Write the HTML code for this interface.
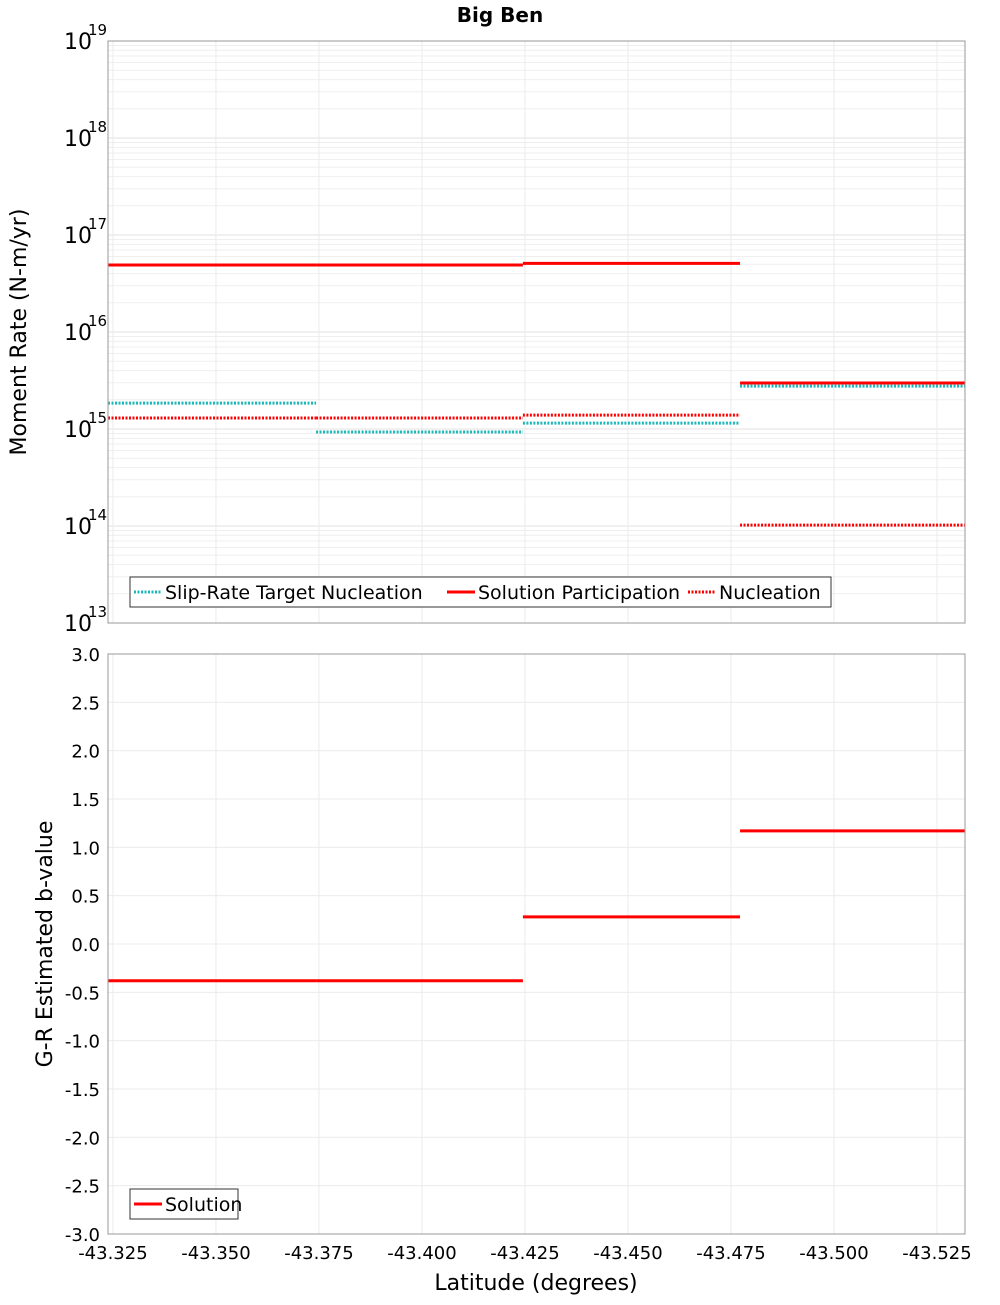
<!DOCTYPE html>
<html><head><meta charset="utf-8"><style>
body{margin:0;background:#fff;font-family:"Liberation Sans","DejaVu Sans",sans-serif;}
svg text{font-family:"DejaVu Sans","Liberation Sans",sans-serif;}
</style></head><body>
<svg id="chart" width="1000" height="1300" xmlns="http://www.w3.org/2000/svg">
<text x="500" y="22" text-anchor="middle" font-size="20" font-weight="bold">Big Ben</text>
<g id="topPanel"></g>
<g id="botPanel"></g>
</svg>
<script>
const segEdges=[-43.3238,-43.3743,-43.4245,-43.4772,-43.5318];
const slipTarget=[1.85e15,9.3e14,1.15e15,2.77e15];
const solutionPart=[4.9e16,4.9e16,5.1e16,2.98e15];
const nucleation=[1.3e15,1.3e15,1.39e15,1.02e14];
const bValues=[-0.38,-0.38,0.28,1.17];
const xTicks=[-43.325,-43.350,-43.375,-43.400,-43.425,-43.450,-43.475,-43.500,-43.525];
const yBTicks=[3.0,2.5,2.0,1.5,1.0,0.5,0.0,-0.5,-1.0,-1.5,-2.0,-2.5,-3.0];
const logExps=[13,14,15,16,17,18,19];

const NS="http://www.w3.org/2000/svg";
const L=108,R=965;
const X=v=>L+(v-segEdges[0])/(segEdges[4]-segEdges[0])*(R-L);
const T0=41,T1=623, Ylog=v=>T1-(Math.log10(v)-13)/6*(T1-T0);
const B0=654,B1=1234, Yb=v=>B1-(v+3)/6*(B1-B0);
function mk(p,t,a){const e=document.createElementNS(NS,t);for(const k in a)e.setAttribute(k,a[k]);p.appendChild(e);return e;}
const topG=document.getElementById('topPanel'),botG=document.getElementById('botPanel');

for(let e=13;e<19;e++)for(let m=1;m<10;m++){const y=Ylog(m*Math.pow(10,e));
 const g=mk(topG,'line',{x1:L,x2:R,y1:y,y2:y,stroke:m==1?'#e2e2e2':'#efefef','stroke-width':1});
 
 }
xTicks.forEach(v=>{[[topG,T0,T1],[botG,B0,B1]].forEach(([p,a,b])=>{const g=mk(p,'line',{x1:X(v),x2:X(v),y1:a,y2:b,stroke:'#ebebeb'});
 
 });});
yBTicks.forEach(v=>{const g=mk(botG,'line',{x1:L,x2:R,y1:Yb(v),y2:Yb(v),stroke:'#ebebeb'});
 
 
 const t=mk(botG,'text',{x:100,y:Yb(v)+7,'text-anchor':'end','font-size':18});t.textContent=v.toFixed(1);
 
 });
logExps.forEach(e=>{const y=Ylog(Math.pow(10,e));
 const t=mk(topG,'text',{x:64,y:y+8,'font-size':22});t.textContent='10';
 
 
 const s=mk(topG,'text',{x:88,y:y-6,'font-size':15});s.textContent=String(e);
 
 });
xTicks.forEach(v=>{const t=mk(botG,'text',{x:X(v),y:1259,'text-anchor':'middle','font-size':18});t.textContent=v.toFixed(3);
 
 });

function series(p,vals,Y,color,dash,name){vals.forEach((v,i)=>{const l=mk(p,'line',{x1:X(segEdges[i]),x2:X(segEdges[i+1]),y1:Y(v),y2:Y(v),stroke:color,'stroke-width':3});
 if(dash)l.setAttribute('stroke-dasharray','2,1.5');
 
 });}
series(topG,slipTarget,Ylog,'#1ab8b8',true,'slip-rate-target-segment');
series(topG,solutionPart,Ylog,'#ff0000',false,'solution-participation-segment');
series(topG,nucleation,Ylog,'#ff0000',true,'nucleation-segment');
series(botG,bValues,Yb,'#ff0000',false,'b-value-segment');

[[topG,T0,T1],[botG,B0,B1]].forEach(([p,a,b])=>{const r=mk(p,'rect',{x:L,y:a,width:R-L,height:b-a,fill:'none',stroke:'#999'});
 
 });

function legend(p,x,y,w,items){const g=mk(p,'g',{});
 
 
 mk(g,'rect',{x:x,y:y,width:w,height:30,fill:'#fff',stroke:'#333'});
 let cx=x+4;items.forEach(([lab,c,d,wd])=>{const l=mk(g,'line',{x1:cx,x2:cx+28,y1:y+15,y2:y+15,stroke:c,'stroke-width':3});if(d)l.setAttribute('stroke-dasharray','2,1.5');
 const t=mk(g,'text',{x:cx+31,y:y+22,'font-size':19});t.textContent=lab;
 
 cx+=wd;});}
legend(topG,130,577,701,[['Slip-Rate Target Nucleation','#1ab8b8',true,313],['Solution Participation','#ff0000',false,241],['Nucleation','#ff0000',true,140]]);
legend(botG,130,1189,108,[['Solution','#ff0000',false,100]]);

let t=mk(botG,'text',{x:536,y:1290,'text-anchor':'middle','font-size':22});t.textContent='Latitude (degrees)';


t=mk(topG,'text',{x:26,y:332,'text-anchor':'middle','font-size':22,transform:'rotate(-90 26 332)'});t.textContent='Moment Rate (N-m/yr)';


t=mk(botG,'text',{x:52,y:944,'text-anchor':'middle','font-size':22,transform:'rotate(-90 52 944)'});t.textContent='G-R Estimated b-value';


</script>
</body></html>
